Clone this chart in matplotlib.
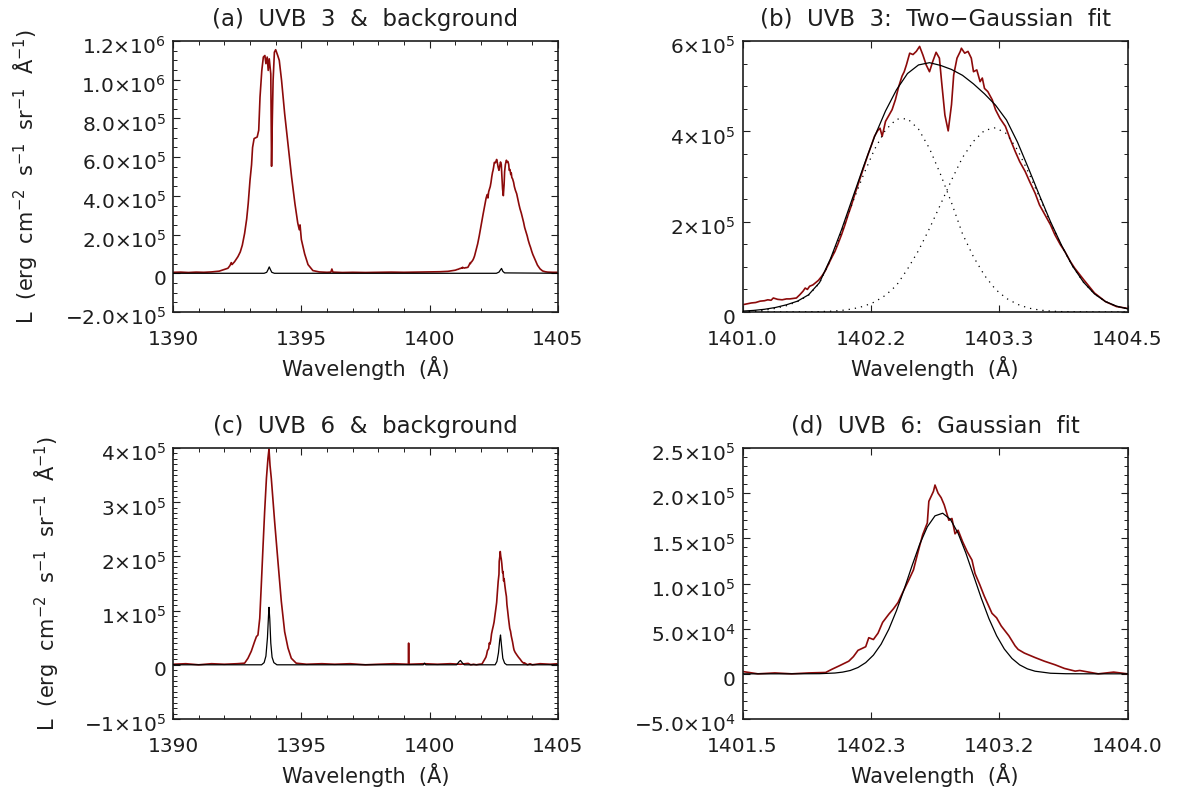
import numpy as np
import matplotlib
matplotlib.use('Agg')
import matplotlib.pyplot as plt
from matplotlib.ticker import FixedLocator, MultipleLocator, NullLocator
from matplotlib.transforms import ScaledTranslation

plt.rcParams['font.family'] = ['DejaVu Sans']
plt.rcParams['mathtext.fontset'] = 'dejavusans'
plt.rcParams['mathtext.default'] = 'regular'

# ---------------- data ----------------
# (a) UVB 3 spectrum, 1390-1401 A part
wl_a = [1390.0, 1390.3, 1390.6, 1390.9, 1391.2, 1391.5, 1391.8, 1392.0, 1392.14, 1392.22,
        1392.27, 1392.30, 1392.40, 1392.53, 1392.62, 1392.70, 1392.79, 1392.87, 1392.93, 1393.00,
        1393.06, 1393.10, 1393.16, 1393.22, 1393.28, 1393.34, 1393.39, 1393.46, 1393.52, 1393.58,
        1393.62, 1393.67, 1393.71, 1393.75, 1393.81, 1393.84, 1393.87, 1393.90, 1393.95, 1394.00,
        1394.08, 1394.14, 1394.23, 1394.35, 1394.49, 1394.62, 1394.75, 1394.86, 1394.92, 1394.95,
        1395.00, 1395.13, 1395.26, 1395.45, 1395.70, 1396.00, 1396.15, 1396.19, 1396.23, 1396.60,
        1397.00, 1397.50, 1398.00, 1398.50, 1399.00, 1399.50, 1400.00, 1400.40, 1400.71, 1400.90]
L_a = [5e3, 6e3, 4e3, 6e3, 5e3, 7e3, 1.1e4, 2.0e4, 2.6e4, 4.0e4,
       5.5e4, 4.5e4, 6.0e4, 8.6e4, 1.1e5, 1.45e5, 2.06e5, 2.8e5, 3.6e5, 4.8e5,
       5.6e5, 6.5e5, 6.96e5, 7.0e5, 7.04e5, 7.39e5, 9.1e5, 1.048e6, 1.117e6, 1.125e6,
       1.083e6, 1.117e6, 1.048e6, 1.108e6, 1.03e6, 5.53e5, 8.0e5, 9.96e5, 1.142e6, 1.155e6,
       1.125e6, 1.10e6, 9.96e5, 8.25e5, 6.53e5, 4.98e5, 3.6e5, 2.6e5, 2.25e5, 2.5e5,
       1.75e5, 1.0e5, 4.5e4, 1.4e4, 7e3, 5e3, 6e3, 2.2e4, 6e3, 4e3,
       5e3, 4e3, 5e3, 6e3, 5e3, 6e3, 7e3, 8e3, 1.0e4, 1.4e4]
wl_a_tail = [1404.6, 1404.8, 1405.0]
L_a_tail = [6e3, 5e3, 5e3]

# (a) background
wl_a_bg = [1390.0, 1393.55, 1393.65, 1393.70, 1393.75, 1393.80, 1393.85, 1393.95,
           1402.60, 1402.70, 1402.75, 1402.80, 1402.85, 1402.92, 1405.0]
L_a_bg = [0, 0, 5e3, 1.8e4, 3.3e4, 1.8e4, 5e3, 0,
          0, 6e3, 1.6e4, 2.5e4, 1.0e4, 2e3, 0]

# (b) UVB 3, Si IV 1403 line (also used in panel a)
wl_b = [1401.00, 1401.04, 1401.08, 1401.12, 1401.16, 1401.20, 1401.23, 1401.26, 1401.28, 1401.32,
        1401.36, 1401.40, 1401.43, 1401.46, 1401.49, 1401.52, 1401.55, 1401.57, 1401.59, 1401.61,
        1401.64, 1401.66, 1401.69, 1401.72, 1401.75, 1401.78, 1401.81, 1401.84, 1401.87, 1401.90,
        1401.93, 1401.96, 1401.99, 1402.02, 1402.05, 1402.08, 1402.11, 1402.14, 1402.17, 1402.20,
        1402.23, 1402.25, 1402.27, 1402.30, 1402.33, 1402.36, 1402.39, 1402.42, 1402.45, 1402.47,
        1402.49, 1402.52, 1402.55, 1402.58, 1402.61, 1402.64, 1402.67, 1402.70, 1402.73, 1402.76,
        1402.79, 1402.81, 1402.84, 1402.87, 1402.90, 1402.92, 1402.95, 1402.98, 1402.99, 1403.02,
        1403.05, 1403.08, 1403.10, 1403.13, 1403.16, 1403.18, 1403.20, 1403.23, 1403.27, 1403.30,
        1403.34, 1403.39, 1403.43, 1403.48, 1403.52, 1403.57, 1403.61, 1403.66, 1403.70, 1403.75,
        1403.80, 1403.84, 1403.89, 1403.93, 1403.98, 1404.02, 1404.10, 1404.20, 1404.30, 1404.40,
        1404.50]
L_b = [1.6e4, 1.8e4, 2.0e4, 2.1e4, 2.4e4, 2.5e4, 2.7e4, 2.6e4, 3.1e4, 2.8e4,
       2.7e4, 2.9e4, 2.9e4, 3.0e4, 3.1e4, 3.8e4, 4.6e4, 5.3e4, 5.0e4, 5.7e4,
       6.0e4, 6.4e4, 7.0e4, 7.9e4, 9.0e4, 1.05e5, 1.2e5, 1.34e5, 1.52e5, 1.71e5,
       1.92e5, 2.15e5, 2.36e5, 2.6e5, 2.82e5, 3.04e5, 3.26e5, 3.48e5, 3.68e5, 3.89e5,
       4.02e5, 4.07e5, 3.89e5, 4.22e5, 4.35e5, 4.48e5, 4.70e5, 4.99e5, 5.22e5, 5.32e5,
       5.47e5, 5.73e5, 5.70e5, 5.77e5, 5.88e5, 5.69e5, 5.47e5, 5.32e5, 5.55e5, 5.75e5,
       5.62e5, 5.10e5, 4.36e5, 4.01e5, 4.59e5, 5.25e5, 5.62e5, 5.77e5, 5.84e5, 5.73e5,
       5.77e5, 5.62e5, 5.32e5, 5.36e5, 5.10e5, 5.18e5, 4.95e5, 4.88e5, 4.70e5, 4.48e5,
       4.29e5, 4.11e5, 3.85e5, 3.55e5, 3.33e5, 3.11e5, 2.89e5, 2.63e5, 2.37e5, 2.15e5,
       1.93e5, 1.71e5, 1.49e5, 1.34e5, 1.12e5, 9.7e4, 7.2e4, 4.2e4, 2.3e4, 1.2e4,
       8e3]

# (b) two-Gaussian fit: total and the two components
wl_fit_b = [1401.0, 1401.1, 1401.2, 1401.3, 1401.4, 1401.5, 1401.6, 1401.7, 1401.8, 1401.9,
            1402.0, 1402.1, 1402.2, 1402.3, 1402.4, 1402.5, 1402.6, 1402.7, 1402.8, 1402.9,
            1403.0, 1403.1, 1403.2, 1403.3, 1403.4, 1403.5, 1403.6, 1403.7, 1403.8, 1403.9,
            1404.0, 1404.1, 1404.2, 1404.3, 1404.4, 1404.5]
fit_b = [2e3, 3.5e3, 6e3, 1.0e4, 1.6e4, 2.4e4, 3.8e4, 6.5e4, 1.18e5, 1.82e5,
         2.52e5, 3.22e5, 3.88e5, 4.45e5, 4.92e5, 5.28e5, 5.47e5, 5.52e5, 5.46e5, 5.37e5,
         5.24e5, 5.05e5, 4.83e5, 4.58e5, 4.25e5, 3.76e5, 3.18e5, 2.58e5, 2.0e5, 1.48e5,
         1.02e5, 6.6e4, 4.0e4, 2.3e4, 1.3e4, 7e3]
comp1_b = [1e3, 2e3, 4e3, 8e3, 1.4e4, 2.3e4, 3.7e4, 6.4e4, 1.15e5, 1.77e5,
           2.42e5, 3.04e5, 3.60e5, 4.03e5, 4.27e5, 4.28e5, 4.05e5, 3.62e5, 3.05e5, 2.42e5,
           1.73e5, 1.22e5, 8.1e4, 5.0e4, 3.0e4, 1.7e4, 8.7e3, 4.3e3, 2.0e3, 9e2,
           4e2, 1.5e2, 50, 20, 10, 0]
comp2_b = [0, 0, 10, 20, 60, 150, 350, 800, 1.7e3, 3.5e3,
           6.8e3, 1.26e4, 2.2e4, 3.7e4, 5.9e4, 9.5e4, 1.36e5, 1.85e5, 2.38e5, 2.92e5,
           3.42e5, 3.78e5, 4.02e5, 4.08e5, 3.95e5, 3.59e5, 3.09e5, 2.54e5, 1.98e5, 1.47e5,
           1.016e5, 6.6e4, 4.0e4, 2.3e4, 1.3e4, 7e3]

# (c) UVB 6 spectrum, 1390-1401.5 A part
wl_c = [1390.0, 1390.5, 1391.0, 1391.5, 1392.0, 1392.5, 1392.79, 1392.92, 1393.05, 1393.18,
        1393.25, 1393.31, 1393.38, 1393.44, 1393.51, 1393.57, 1393.64, 1393.70, 1393.74, 1393.78,
        1393.83, 1393.90, 1393.96, 1394.09, 1394.22, 1394.35, 1394.48, 1394.61, 1394.80, 1395.2,
        1395.8, 1396.3, 1396.9, 1397.5, 1398.0, 1398.6, 1399.17, 1399.18, 1399.19, 1399.8,
        1400.3, 1400.8, 1401.2]
L_c = [1e3, 2e3, 0, 2e3, 1e3, 2e3, 3e3, 1.2e4, 2.5e4, 4.3e4,
       5.2e4, 5.5e4, 8.6e4, 1.47e5, 2.21e5, 2.82e5, 3.44e5, 3.81e5, 3.98e5, 3.68e5,
       3.44e5, 3.01e5, 2.64e5, 1.90e5, 1.17e5, 6.1e4, 3.1e4, 1.2e4, 3e3, 1e3,
       2e3, 1e3, 2e3, 0, 1e3, 2e3, 1e3, 4.0e4, 1e3, 2e3,
       1e3, 2e3, 1e3]
wl_c_tail = [1404.3, 1404.7, 1405.0]
L_c_tail = [2e3, 1e3, 2e3]

# (c) background
wl_c_bg = [1390.0, 1393.45, 1393.55, 1393.62, 1393.68, 1393.72, 1393.74, 1393.77, 1393.81, 1393.86,
           1393.93, 1394.05, 1399.75, 1399.80, 1399.85, 1401.05, 1401.15, 1401.20, 1401.28, 1401.35,
           1402.55, 1402.62, 1402.68, 1402.73, 1402.76, 1402.80, 1402.85, 1402.92, 1403.00, 1405.0]
L_c_bg = [0, 0, 4e3, 1.6e4, 5.0e4, 9.0e4, 1.06e5, 8.5e4, 4.0e4, 1.4e4,
          4e3, 0, 0, 3e3, 0, 0, 6e3, 8e3, 3e3, 0,
          0, 6e3, 2.2e4, 4.6e4, 5.5e4, 3.5e4, 1.2e4, 3e3, 0, 0]

# (d) UVB 6, Si IV 1403 line (also used in panel c)
wl_d = [1401.50, 1401.60, 1401.71, 1401.82, 1401.93, 1402.04, 1402.08, 1402.13, 1402.19, 1402.22,
        1402.25, 1402.30, 1402.32, 1402.35, 1402.38, 1402.41, 1402.45, 1402.48, 1402.51, 1402.54,
        1402.58, 1402.61, 1402.64, 1402.67, 1402.70, 1402.71, 1402.74, 1402.75, 1402.77, 1402.79,
        1402.81, 1402.84, 1402.86, 1402.88, 1402.90, 1402.93, 1402.96, 1402.99, 1403.01, 1403.04,
        1403.07, 1403.12, 1403.15, 1403.18, 1403.23, 1403.27, 1403.29, 1403.33, 1403.40, 1403.46,
        1403.53, 1403.59, 1403.66, 1403.69, 1403.81, 1403.91, 1404.00]
L_d = [2.6e3, 0, 1e3, 0, 1e3, 1.5e3, 5e3, 9e3, 1.4e4, 1.9e4,
       2.6e4, 3.0e4, 4.0e4, 3.8e4, 4.5e4, 5.7e4, 6.6e4, 7.2e4, 7.9e4, 9.0e4,
       1.04e5, 1.15e5, 1.35e5, 1.54e5, 1.67e5, 1.91e5, 2.02e5, 2.09e5, 2.0e5, 1.95e5,
       1.87e5, 1.70e5, 1.72e5, 1.55e5, 1.59e5, 1.46e5, 1.35e5, 1.26e5, 1.11e5, 9.9e4,
       8.6e4, 6.7e4, 6.2e4, 5.3e4, 4.2e4, 3.1e4, 2.7e4, 2.3e4, 1.8e4, 1.4e4,
       1.0e4, 6e3, 3e3, 3.7e3, 0, 1.9e3, 0]

# (d) single Gaussian fit
wl_fit_d = [1401.5, 1401.8, 1402.0, 1402.1, 1402.15, 1402.2, 1402.25, 1402.3, 1402.35, 1402.4,
            1402.45, 1402.5, 1402.55, 1402.6, 1402.65, 1402.7, 1402.75, 1402.8, 1402.85, 1402.9,
            1402.95, 1403.0, 1403.05, 1403.1, 1403.15, 1403.2, 1403.25, 1403.3, 1403.35, 1403.4,
            1403.5, 1403.6, 1403.8, 1404.0]
fit_d = [0, 0, 170, 900, 1.9e3, 3.7e3, 7.0e3, 1.24e4, 2.07e4, 3.28e4,
         4.93e4, 7.0e4, 9.38e4, 1.192e5, 1.432e5, 1.627e5, 1.749e5, 1.778e5, 1.710e5, 1.556e5,
         1.339e5, 1.090e5, 8.40e4, 6.12e4, 4.22e4, 2.75e4, 1.70e4, 9.9e3, 5.5e3, 2.9e3,
         660, 120, 0, 0]

titles = ['(a)  UVB  3  &  background', '(b)  UVB  3:  Two\u2212Gaussian  fit',
          '(c)  UVB  6  &  background', '(d)  UVB  6:  Gaussian  fit']

xt_a = [1390, 1395, 1400, 1405]
xtl_a = ['1390', '1395', '1400', '1405']
xt_b = [1401.0, 1402.1667, 1403.3333, 1404.5]
xtl_b = ['1401.0', '1402.2', '1403.3', '1404.5']
xt_d = [1401.5, 1402.3333, 1403.1667, 1404.0]
xtl_d = ['1401.5', '1402.3', '1403.2', '1404.0']

yt_a = [-2e5, 0, 2e5, 4e5, 6e5, 8e5, 1.0e6, 1.2e6]
ytl_a = ['\u22122.0\u00d710$^{5}$', '0', '2.0\u00d710$^{5}$', '4.0\u00d710$^{5}$',
         '6.0\u00d710$^{5}$', '8.0\u00d710$^{5}$', '1.0\u00d710$^{6}$', '1.2\u00d710$^{6}$']
yt_b = [0, 2e5, 4e5, 6e5]
ytl_b = ['0', '2\u00d710$^{5}$', '4\u00d710$^{5}$', '6\u00d710$^{5}$']
yt_c = [-1e5, 0, 1e5, 2e5, 3e5, 4e5]
ytl_c = ['\u22121\u00d710$^{5}$', '0', '1\u00d710$^{5}$', '2\u00d710$^{5}$',
         '3\u00d710$^{5}$', '4\u00d710$^{5}$']
yt_d = [-5e4, 0, 5e4, 1e5, 1.5e5, 2e5, 2.5e5]
ytl_d = ['\u22125.0\u00d710$^{4}$', '0', '5.0\u00d710$^{4}$', '1.0\u00d710$^{5}$',
         '1.5\u00d710$^{5}$', '2.0\u00d710$^{5}$', '2.5\u00d710$^{5}$']

RED = '#8c0a0a'
TXT = '#1e1e1e'
ylab = r'L  (erg  cm$^{-2}$  s$^{-1}$  sr$^{-1}$  Å$^{-1}$)'
xlab = 'Wavelength  (Å)'

fig = plt.figure(figsize=(11.84, 7.94), dpi=100)
W, H = 1184.0, 794.0
def rect(l, t, r, b):
    return [l / W, 1 - b / H, (r - l) / W, (b - t) / H]

ax_a = fig.add_axes(rect(173, 41, 558, 312))
ax_b = fig.add_axes(rect(742.5, 41, 1127.5, 312))
ax_c = fig.add_axes(rect(173, 448, 558, 719))
ax_d = fig.add_axes(rect(742.5, 448, 1127.5, 719))


def style(ax, xlim, ylim, xt, xtl, yt, ytl, xminor, yminor, title, ylabel_x=None):
    ax.set_xlim(*xlim)
    ax.set_ylim(*ylim)
    ax.xaxis.set_major_locator(FixedLocator(xt))
    ax.set_xticklabels(xtl)
    ax.yaxis.set_major_locator(FixedLocator(yt))
    ax.set_yticklabels(ytl)
    if xminor:
        ax.xaxis.set_minor_locator(MultipleLocator(xminor))
    else:
        ax.xaxis.set_minor_locator(NullLocator())
    ax.yaxis.set_minor_locator(MultipleLocator(yminor))
    ax.tick_params(which='both', direction='in', top=True, right=True, colors=TXT,
                   labelsize=14.5, labelcolor=TXT)
    ax.tick_params(which='major', length=5.2, width=0.8)
    ax.tick_params(which='minor', length=2.7, width=0.7)
    ax.tick_params(axis='x', pad=13)
    ax.tick_params(axis='y', pad=5)
    for s in ax.spines.values():
        s.set_linewidth(1.2)
        s.set_color(TXT)
    ax.set_title(title, fontsize=16.5, color=TXT, pad=11)
    ax.set_xlabel(xlab, fontsize=15, color=TXT, labelpad=5)
    if ylabel_x is not None:
        ax.set_ylabel(ylab, fontsize=15, color=TXT)
        ax.yaxis.set_label_coords(ylabel_x, 0.5)
    off = ScaledTranslation(0, -3 / 72, fig.dpi_scale_trans)
    for lab in ax.get_yticklabels():
        lab.set_transform(lab.get_transform() + off)


# (a)
ax_a.plot(wl_a + wl_b + wl_a_tail, L_a + L_b + L_a_tail, color=RED, lw=1.2, zorder=2)
ax_a.plot(wl_a_bg, L_a_bg, color='black', lw=0.9, zorder=3)
style(ax_a, (1390, 1405), (-2e5, 1.2e6), xt_a, xtl_a, yt_a, ytl_a, 1, 5e4, titles[0], -0.345)

# (b)
ax_b.plot(wl_b, L_b, color=RED, lw=1.2, zorder=2)
ax_b.plot(wl_fit_b, fit_b, color='black', lw=0.9, zorder=3)
ax_b.plot(wl_fit_b, comp1_b, color='black', lw=0.9, ls=(0, (1, 4)), zorder=3)
ax_b.plot(wl_fit_b, comp2_b, color='black', lw=0.9, ls=(0, (1, 4)), zorder=3)
style(ax_b, (1401.0, 1404.5), (0, 6e5), xt_b, xtl_b, yt_b, ytl_b, None, 5e4, titles[1])

# (c)
ax_c.plot(wl_c + wl_d + wl_c_tail, L_c + L_d + L_c_tail, color=RED, lw=1.2, zorder=2)
ax_c.plot(wl_c_bg, L_c_bg, color='black', lw=0.9, zorder=3)
style(ax_c, (1390, 1405), (-1e5, 4e5), xt_a, xtl_a, yt_c, ytl_c, 1, 1e4, titles[2], -0.291)

# (d)
ax_d.plot(wl_d, L_d, color=RED, lw=1.2, zorder=2)
ax_d.plot(wl_fit_d, fit_d, color='black', lw=0.9, zorder=3)
style(ax_d, (1401.5, 1404.0), (-5e4, 2.5e5), xt_d, xtl_d, yt_d, ytl_d, None, 1e4, titles[3])

fig.savefig('out.png', dpi=100)
